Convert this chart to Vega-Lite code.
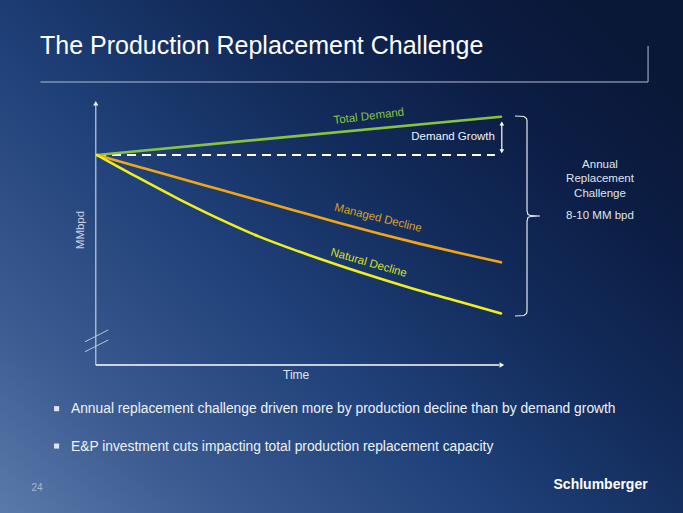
{
  "$schema": "https://vega.github.io/schema/vega-lite/v6.json",
  "width": 683,
  "height": 513,
  "autosize": {"type": "fit", "contains": "padding"},
  "padding": 0,
  "background": "#163468",
  "config": {
    "view": {
      "stroke": null,
      "fill": {
        "gradient": "linear", "x1": 0, "y1": 1, "x2": 1, "y2": 0.2,
        "stops": [
          {"offset": 0, "color": "#5a7aab"},
          {"offset": 0.2, "color": "#3a5a90"},
          {"offset": 0.45, "color": "#1f4078"},
          {"offset": 0.65, "color": "#132c5c"},
          {"offset": 0.85, "color": "#0c1d44"},
          {"offset": 1, "color": "#0a1838"}
        ]
      }
    },
    "text": {"font": "Liberation Sans, Arial, sans-serif"}
  },
  "data": {
    "values": [
      {"series": "Total Demand", "t": 0, "mmbpd": 85},
      {"series": "Total Demand", "t": 10, "mmbpd": 86.74},
      {"series": "Managed Decline", "t": 0, "mmbpd": 85},
      {"series": "Managed Decline", "t": 1, "mmbpd": 84.48},
      {"series": "Managed Decline", "t": 2, "mmbpd": 83.96},
      {"series": "Managed Decline", "t": 3, "mmbpd": 83.45},
      {"series": "Managed Decline", "t": 4, "mmbpd": 82.94},
      {"series": "Managed Decline", "t": 5, "mmbpd": 82.42},
      {"series": "Managed Decline", "t": 6, "mmbpd": 81.91},
      {"series": "Managed Decline", "t": 7, "mmbpd": 81.42},
      {"series": "Managed Decline", "t": 8, "mmbpd": 80.96},
      {"series": "Managed Decline", "t": 9, "mmbpd": 80.53},
      {"series": "Managed Decline", "t": 10, "mmbpd": 80.12},
      {"series": "Natural Decline", "t": 0, "mmbpd": 85},
      {"series": "Natural Decline", "t": 1, "mmbpd": 83.99},
      {"series": "Natural Decline", "t": 2, "mmbpd": 83.02},
      {"series": "Natural Decline", "t": 3, "mmbpd": 82.12},
      {"series": "Natural Decline", "t": 4, "mmbpd": 81.3},
      {"series": "Natural Decline", "t": 5, "mmbpd": 80.61},
      {"series": "Natural Decline", "t": 6, "mmbpd": 79.98},
      {"series": "Natural Decline", "t": 7, "mmbpd": 79.39},
      {"series": "Natural Decline", "t": 8, "mmbpd": 78.83},
      {"series": "Natural Decline", "t": 9, "mmbpd": 78.32},
      {"series": "Natural Decline", "t": 10, "mmbpd": 77.8}
    ]
  },
  "layer": [
    {
      "data": {"values": [{"t": 0, "mmbpd": 85}, {"t": 9.85, "mmbpd": 85}]},
      "mark": {"type": "line", "color": "#ffffff", "strokeWidth": 2, "strokeDash": [9, 6]},
      "encoding": {
        "x": {"field": "t", "type": "quantitative", "scale": {"domain": [-2.401, 14.505], "nice": false, "zero": false}, "axis": null},
        "y": {"field": "mmbpd", "type": "quantitative", "scale": {"domain": [68.727, 92.045], "nice": false, "zero": false}, "axis": null}
      }
    },
    {
      "data": {"values": [{}]},
      "mark": {"type": "rule", "color": "#c4cedc", "strokeWidth": 1.2},
      "encoding": {"x": {"datum": -0.03}, "y": {"datum": 75.4545}, "y2": {"datum": 87.3}}
    },
    {
      "data": {"values": [{}]},
      "mark": {"type": "rule", "color": "#ffffff", "strokeWidth": 1.5},
      "encoding": {"y": {"datum": 75.4545}, "x": {"datum": -0.03}, "x2": {"datum": 9.95}}
    },
    {
      "data": {"values": [{}]},
      "mark": {"type": "point", "shape": "triangle-up", "filled": true, "size": 28, "color": "#e8edf4", "opacity": 1},
      "encoding": {"x": {"datum": -0.03}, "y": {"datum": 87.35}}
    },
    {
      "data": {"values": [{}]},
      "mark": {"type": "point", "shape": "triangle-right", "filled": true, "size": 28, "color": "#ffffff", "opacity": 1},
      "encoding": {"x": {"datum": 10.02}, "y": {"datum": 75.4545}}
    },
    {
      "data": {"values": [{"t": -0.297, "v": 76.51, "t2": 0.28, "v2": 77.05}, {"t": -0.297, "v": 76.06, "t2": 0.28, "v2": 76.59}]},
      "mark": {"type": "rule", "color": "#b8c6dc", "strokeWidth": 1},
      "encoding": {
        "x": {"field": "t", "type": "quantitative"},
        "y": {"field": "v", "type": "quantitative"},
        "x2": {"field": "t2"},
        "y2": {"field": "v2"}
      }
    },
    {
      "mark": {"type": "line", "strokeWidth": 2.6, "interpolate": "monotone", "strokeCap": "round"},
      "encoding": {
        "x": {"field": "t", "type": "quantitative"},
        "y": {"field": "mmbpd", "type": "quantitative"},
        "color": {
          "field": "series", "type": "nominal",
          "scale": {"domain": ["Total Demand", "Managed Decline", "Natural Decline"], "range": ["#86c440", "#f2a516", "#f0ef1e"]},
          "legend": null
        }
      }
    },
    {
      "data": {"values": [{}]},
      "mark": {"type": "rule", "color": "#ffffff", "strokeWidth": 1.2},
      "encoding": {"x": {"datum": 10.02}, "y": {"datum": 85.2}, "y2": {"datum": 86.42}}
    },
    {
      "data": {"values": [{}]},
      "mark": {"type": "point", "shape": "triangle-up", "filled": true, "size": 22, "color": "#ffffff", "opacity": 1},
      "encoding": {"x": {"datum": 10.02}, "y": {"datum": 86.43}}
    },
    {
      "data": {"values": [{}]},
      "mark": {"type": "point", "shape": "triangle-down", "filled": true, "size": 22, "color": "#ffffff", "opacity": 1},
      "encoding": {"x": {"datum": 10.02}, "y": {"datum": 85.17}}
    },
    {
      "data": {"values": [
        {"i": 1, "t": 10.347, "v": 86.773},
        {"i": 2, "t": 10.569, "v": 86.75},
        {"i": 3, "t": 10.631, "v": 86.659},
        {"i": 4, "t": 10.644, "v": 86.545},
        {"i": 5, "t": 10.644, "v": 82.455},
        {"i": 6, "t": 10.668, "v": 82.295},
        {"i": 7, "t": 10.743, "v": 82.241},
        {"i": 8, "t": 10.965, "v": 82.227},
        {"i": 9, "t": 10.743, "v": 82.214},
        {"i": 10, "t": 10.668, "v": 82.159},
        {"i": 11, "t": 10.644, "v": 82.0},
        {"i": 12, "t": 10.644, "v": 77.909},
        {"i": 13, "t": 10.631, "v": 77.795},
        {"i": 14, "t": 10.569, "v": 77.705},
        {"i": 15, "t": 10.347, "v": 77.682}
      ]},
      "mark": {"type": "line", "color": "#e4e9f0", "strokeWidth": 1.2},
      "encoding": {
        "x": {"field": "t", "type": "quantitative"},
        "y": {"field": "v", "type": "quantitative"},
        "order": {"field": "i", "type": "quantitative"}
      }
    },
    {
      "data": {"values": [{}]},
      "mark": {"type": "rule", "color": "#b4bfce", "strokeWidth": 1},
      "encoding": {"y": {"datum": 88.318}, "x": {"datum": -1.4}, "x2": {"datum": 13.64}}
    },
    {
      "data": {"values": [{}]},
      "mark": {"type": "rule", "color": "#b4bfce", "strokeWidth": 1},
      "encoding": {"x": {"datum": 13.64}, "y": {"datum": 88.318}, "y2": {"datum": 89.955}}
    },
    {
      "data": {"values": [{"label": "The Production Replacement Challenge"}]},
      "mark": {"type": "text", "fontSize": 25, "color": "#ffffff", "align": "left", "baseline": "alphabetic"},
      "encoding": {"x": {"datum": -1.411}, "y": {"datum": 89.6}, "text": {"field": "label"}}
    },
    {
      "data": {"values": [{"label": "Total Demand"}]},
      "mark": {"type": "text", "fontSize": 11.5, "color": "#86c440", "align": "center", "baseline": "middle", "angle": -7},
      "encoding": {"x": {"datum": 6.73}, "y": {"datum": 86.74}, "text": {"field": "label"}}
    },
    {
      "data": {"values": [{"label": "Managed Decline"}]},
      "mark": {"type": "text", "fontSize": 11.5, "color": "#d8a21c", "align": "center", "baseline": "middle", "angle": 14},
      "encoding": {"x": {"datum": 6.955}, "y": {"datum": 82.12}, "text": {"field": "label"}}
    },
    {
      "data": {"values": [{"label": "Natural Decline"}]},
      "mark": {"type": "text", "fontSize": 11.5, "color": "#d6e01e", "align": "center", "baseline": "middle", "angle": 16},
      "encoding": {"x": {"datum": 6.725}, "y": {"datum": 80.08}, "text": {"field": "label"}}
    },
    {
      "data": {"values": [{"label": "Demand Growth"}]},
      "mark": {"type": "text", "fontSize": 11.5, "color": "#eef2f7", "align": "right", "baseline": "middle"},
      "encoding": {"x": {"datum": 9.85}, "y": {"datum": 85.83}, "text": {"field": "label"}}
    },
    {
      "data": {"values": [{"label": "Annual\nReplacement\nChallenge"}]},
      "mark": {"type": "text", "fontSize": 11.5, "color": "#dfe5ee", "align": "center", "baseline": "alphabetic", "lineBreak": "\n", "lineHeight": 14.5},
      "encoding": {"x": {"datum": 12.45}, "y": {"datum": 84.41}, "text": {"field": "label"}}
    },
    {
      "data": {"values": [{"label": "8-10 MM bpd"}]},
      "mark": {"type": "text", "fontSize": 11.5, "color": "#dfe5ee", "align": "center", "baseline": "middle"},
      "encoding": {"x": {"datum": 12.45}, "y": {"datum": 82.23}, "text": {"field": "label"}}
    },
    {
      "data": {"values": [{"label": "MMbpd"}]},
      "mark": {"type": "text", "fontSize": 11.5, "color": "#c8d2e2", "align": "center", "baseline": "middle", "angle": 270},
      "encoding": {"x": {"datum": -0.406}, "y": {"datum": 81.59}, "text": {"field": "label"}}
    },
    {
      "data": {"values": [{"label": "Time"}]},
      "mark": {"type": "text", "fontSize": 12, "color": "#dfe5ee", "align": "center", "baseline": "middle"},
      "encoding": {"x": {"datum": 4.93}, "y": {"datum": 75.0}, "text": {"field": "label"}}
    },
    {
      "data": {"values": [{}]},
      "mark": {"type": "point", "shape": "square", "filled": true, "size": 26, "color": "#dfe5ee", "opacity": 1},
      "encoding": {"x": {"datum": -1.0}, "y": {"datum": 73.47}}
    },
    {
      "data": {"values": [{}]},
      "mark": {"type": "point", "shape": "square", "filled": true, "size": 26, "color": "#dfe5ee", "opacity": 1},
      "encoding": {"x": {"datum": -1.0}, "y": {"datum": 71.77}}
    },
    {
      "data": {"values": [{"label": "Annual replacement challenge driven more by production decline than by demand growth"}]},
      "mark": {"type": "text", "fontSize": 13.8, "color": "#eef2f7", "align": "left", "baseline": "middle"},
      "encoding": {"x": {"datum": -0.644}, "y": {"datum": 73.44}, "text": {"field": "label"}}
    },
    {
      "data": {"values": [{"label": "E&P investment cuts impacting total production replacement capacity"}]},
      "mark": {"type": "text", "fontSize": 13.8, "color": "#eef2f7", "align": "left", "baseline": "middle"},
      "encoding": {"x": {"datum": -0.644}, "y": {"datum": 71.74}, "text": {"field": "label"}}
    },
    {
      "data": {"values": [{"label": "24"}]},
      "mark": {"type": "text", "fontSize": 10, "color": "#aab8cc", "align": "center", "baseline": "middle"},
      "encoding": {"x": {"datum": -1.485}, "y": {"datum": 69.85}, "text": {"field": "label"}}
    },
    {
      "data": {"values": [{"label": "Schlumberger"}]},
      "mark": {"type": "text", "fontSize": 14, "fontWeight": "bold", "color": "#ffffff", "align": "right", "baseline": "middle"},
      "encoding": {"x": {"datum": 13.63}, "y": {"datum": 70.0}, "text": {"field": "label"}}
    }
  ]
}
